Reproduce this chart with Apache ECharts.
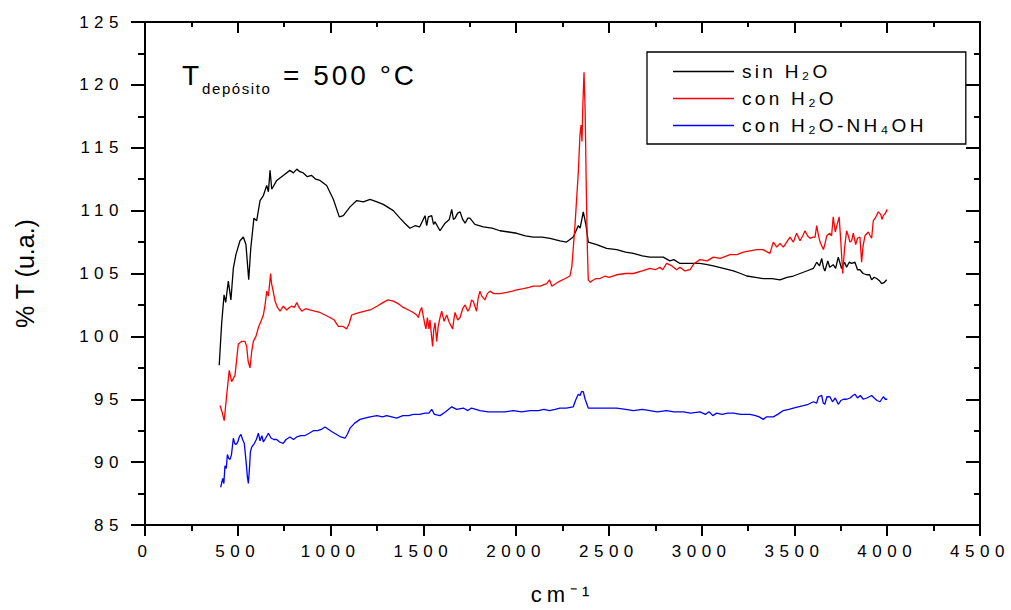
<!DOCTYPE html>
<html><head><meta charset="utf-8">
<script src="https://cdn.jsdelivr.net/npm/echarts@6/dist/echarts.min.js"></script>
<style>
html,body{margin:0;padding:0;background:#fff}
#chart{width:1011px;height:610px}
#chart text[style*="17px"]{letter-spacing:5.5px}
#chart text[style*="19px"]{letter-spacing:3.3px}
#chart text[style*="28px"]{letter-spacing:3px}
#chart text[style*="15px"]{letter-spacing:1.6px}
#chart text[style*="22px"]{letter-spacing:5px}
</style></head><body><div id="chart"></div>
<script>
// wavenumber (cm-1), %T values
const sinH2O = [[400,97.7],[413,101.0],[426,103.3],[435,102.7],[449,104.4],[463,102.9],[476,105.4],[490,106.5],[512,107.6],[530,107.9],[544,107.3],[559,104.5],[570,107.0],[587,109.4],[602,109.2],[620,110.8],[638,111.2],[656,112.0],[665,111.5],[674,113.2],[683,111.7],[710,112.4],[745,112.8],[781,113.2],[800,113.0],[818,113.3],[835,113.1],[853,113.0],[875,112.7],[898,112.8],[920,112.5],[943,112.4],[979,112.0],[1015,110.9],[1047,109.5],[1069,109.6],[1105,110.3],[1141,110.8],[1177,110.7],[1213,110.9],[1250,110.7],[1284,110.5],[1338,110.0],[1374,109.4],[1400,109.0],[1428,108.6],[1455,108.8],[1480,108.7],[1509,109.6],[1518,108.8],[1527,109.5],[1545,109.6],[1555,108.9],[1563,109.1],[1590,108.4],[1617,109.0],[1640,109.3],[1653,110.1],[1662,109.3],[1671,109.4],[1685,109.8],[1698,109.9],[1712,109.3],[1725,109.0],[1740,109.4],[1751,109.4],[1778,108.9],[1823,108.7],[1870,108.6],[1913,108.4],[1960,108.3],[2003,108.2],[2050,108.0],[2093,107.9],[2140,107.9],[2183,107.8],[2236,107.6],[2272,107.5],[2308,107.9],[2335,108.8],[2345,108.6],[2362,109.9],[2377,108.8],[2389,107.5],[2434,107.3],[2488,107.0],[2542,106.9],[2590,106.7],[2632,106.6],[2680,106.4],[2721,106.3],[2793,106.3],[2829,106.0],[2850,106.1],[2883,105.8],[2919,105.8],[2991,105.8],[3030,105.7],[3063,105.6],[3117,105.4],[3171,105.2],[3210,105.0],[3243,104.8],[3290,104.7],[3332,104.6],[3380,104.6],[3422,104.5],[3460,104.7],[3494,104.8],[3530,105.0],[3566,105.2],[3602,105.4],[3620,105.9],[3635,105.6],[3647,106.2],[3656,105.5],[3664,105.2],[3680,106.0],[3690,105.5],[3709,105.7],[3722,105.4],[3736,106.3],[3754,105.4],[3770,105.9],[3781,105.5],[3795,105.9],[3808,105.8],[3826,105.9],[3840,105.3],[3853,105.3],[3870,105.0],[3889,104.9],[3905,104.9],[3916,104.5],[3930,104.7],[3943,104.6],[3960,104.4],[3970,104.2],[3985,104.3],[3997,104.5]];

const conH2O = [[404,94.5],[415,94.0],[427,93.3],[440,95.3],[454,97.3],[467,96.4],[485,96.9],[503,99.4],[521,99.6],[539,99.6],[548,99.2],[556,98.0],[566,97.5],[575,98.8],[584,99.6],[598,100.0],[611,100.7],[625,101.2],[638,101.7],[647,102.5],[656,103.6],[665,103.2],[677,105.0],[682,104.2],[688,103.8],[701,102.8],[714,102.3],[728,102.0],[745,102.4],[764,102.1],[778,102.3],[790,102.4],[805,102.3],[818,102.7],[830,102.3],[845,102.0],[865,102.2],[889,102.1],[915,102.0],[943,101.9],[970,101.7],[997,101.5],[1020,101.3],[1042,100.8],[1065,100.8],[1087,100.6],[1100,101.0],[1114,101.7],[1135,101.8],[1159,101.9],[1185,102.0],[1213,102.1],[1250,102.4],[1284,102.7],[1310,102.9],[1338,102.8],[1365,102.6],[1392,102.3],[1420,102.1],[1446,101.9],[1464,101.7],[1473,101.5],[1482,102.0],[1491,102.3],[1500,101.6],[1509,100.9],[1514,100.6],[1522,101.5],[1530,100.6],[1536,101.3],[1543,100.2],[1550,99.2],[1556,100.5],[1563,101.1],[1572,99.6],[1580,100.8],[1590,101.5],[1599,102.0],[1612,101.2],[1626,101.7],[1640,101.1],[1658,100.6],[1665,101.4],[1671,101.9],[1685,101.3],[1698,101.5],[1712,102.2],[1725,102.5],[1740,102.0],[1751,102.3],[1760,102.9],[1769,102.8],[1778,102.4],[1787,102.0],[1795,103.0],[1805,103.6],[1815,103.2],[1832,102.9],[1845,103.4],[1859,103.6],[1880,103.4],[1913,103.4],[1950,103.5],[1980,103.6],[2003,103.7],[2040,103.8],[2070,103.9],[2093,104.0],[2130,104.0],[2165,104.2],[2180,104.5],[2192,104.0],[2215,104.2],[2236,104.4],[2265,104.6],[2290,104.8],[2300,105.5],[2308,107.0],[2318,109.0],[2326,110.9],[2335,113.0],[2344,116.0],[2350,116.8],[2355,115.5],[2360,118.5],[2366,121.0],[2372,118.0],[2378,112.0],[2384,107.0],[2389,104.5],[2400,104.3],[2407,104.4],[2430,104.6],[2452,104.6],[2480,104.8],[2500,104.7],[2542,104.9],[2590,105.0],[2632,105.0],[2680,105.2],[2721,105.4],[2750,105.3],[2775,105.5],[2790,105.3],[2811,105.8],[2840,105.6],[2865,105.3],[2883,105.5],[2910,105.2],[2937,105.3],[2960,105.8],[2991,106.1],[3030,106.0],[3063,106.3],[3100,106.2],[3153,106.5],[3190,106.5],[3225,106.7],[3260,106.8],[3297,106.9],[3330,106.9],[3368,106.6],[3386,107.5],[3405,107.1],[3422,107.4],[3440,107.1],[3458,107.5],[3476,107.9],[3494,107.5],[3512,108.2],[3530,107.6],[3545,108.0],[3557,108.4],[3570,108.0],[3584,107.8],[3600,107.9],[3611,107.9],[3620,108.8],[3630,108.0],[3638,107.5],[3656,106.9],[3665,107.4],[3674,108.0],[3690,108.2],[3700,108.0],[3709,109.5],[3720,108.3],[3730,108.9],[3741,109.5],[3750,107.5],[3760,105.0],[3770,107.0],[3781,108.4],[3790,108.0],[3799,107.5],[3808,107.6],[3817,108.2],[3830,107.3],[3840,107.8],[3853,107.9],[3862,105.9],[3870,107.2],[3880,108.0],[3898,108.3],[3908,108.0],[3916,107.8],[3925,109.2],[3935,109.4],[3952,109.9],[3965,109.7],[3972,109.3],[3979,109.6],[3990,109.8],[4000,110.1]];

const conH2ONH4OH = [[408,88.0],[414,88.4],[419,88.7],[425,88.3],[431,89.7],[438,89.5],[444,90.6],[451,90.3],[458,90.2],[466,90.6],[476,91.9],[483,91.5],[490,91.4],[500,91.6],[508,92.0],[517,92.2],[526,91.8],[535,91.5],[545,90.0],[552,88.8],[557,88.3],[563,89.5],[568,90.8],[575,91.2],[590,91.5],[600,91.8],[611,92.3],[620,91.7],[630,92.1],[638,91.6],[650,91.9],[665,92.3],[680,91.9],[695,91.8],[710,91.8],[725,91.6],[745,91.5],[760,91.8],[781,92.0],[800,91.8],[818,92.0],[840,92.1],[860,92.1],[885,92.3],[907,92.5],[930,92.5],[950,92.6],[970,92.8],[990,92.6],[1010,92.4],[1033,92.2],[1055,92.0],[1078,91.9],[1090,92.2],[1105,92.7],[1130,93.1],[1159,93.4],[1185,93.5],[1213,93.6],[1250,93.7],[1280,93.6],[1302,93.7],[1330,93.6],[1356,93.5],[1390,93.7],[1420,93.7],[1446,93.8],[1480,93.8],[1510,93.9],[1530,93.9],[1545,94.2],[1560,93.8],[1590,93.7],[1620,94.0],[1653,94.4],[1680,94.2],[1715,94.3],[1740,94.1],[1760,94.3],[1805,94.1],[1850,94.0],[1895,94.0],[1940,94.0],[1985,94.1],[2030,94.0],[2075,94.1],[2120,94.1],[2150,94.2],[2180,94.1],[2210,94.2],[2236,94.3],[2270,94.3],[2308,94.4],[2320,94.9],[2335,95.4],[2345,95.3],[2352,95.6],[2362,95.6],[2372,95.0],[2389,94.3],[2420,94.3],[2452,94.3],[2500,94.3],[2542,94.3],[2590,94.2],[2632,94.1],[2680,94.2],[2721,94.1],[2760,94.0],[2811,94.1],[2850,94.0],[2901,94.0],[2940,93.9],[2991,94.0],[3020,93.8],[3040,94.0],[3060,93.7],[3081,93.9],[3110,93.8],[3140,93.9],[3171,93.9],[3210,93.8],[3261,93.8],[3290,93.7],[3310,93.6],[3332,93.4],[3350,93.6],[3386,93.6],[3410,93.8],[3440,94.1],[3470,94.2],[3494,94.3],[3520,94.4],[3548,94.5],[3575,94.6],[3602,94.8],[3620,94.7],[3630,95.2],[3647,95.3],[3655,94.7],[3664,94.6],[3675,95.2],[3691,95.2],[3705,94.8],[3720,95.1],[3736,94.6],[3750,94.9],[3765,95.0],[3781,95.0],[3800,95.1],[3815,95.3],[3826,95.4],[3840,95.1],[3855,95.3],[3871,95.0],[3890,95.1],[3916,95.3],[3930,95.1],[3945,94.9],[3961,94.8],[3970,95.0],[3979,95.2],[3990,95.0],[4000,95.0]];

const seriesNames = ['sin H\u2082O', 'con H\u2082O', 'con H\u2082O-NH\u2084OH'];
const seriesColors = ['#000000', '#ff0000', '#0000ff'];
const seriesData = [sinH2O, conH2O, conH2ONH4OH];

const xRange = {min: 0, max: 4500, interval: 500};
const yRange = {min: 85, max: 125, interval: 5};
const xName = 'cm\u207B\u00B9';
const yName = '% T (u.a.)';
const titleMain = 'T';
const titleSub = 'depósito';
const titleRest = '= 500 °C';

const FONT = 'Liberation Sans, Arial, sans-serif';
const chart = echarts.init(document.getElementById('chart'), null, {renderer: 'svg'});

function axisBase(extra) {
  return Object.assign({
    type: 'value',
    splitLine: {show: false},
    axisLine: {show: true, onZero: false, lineStyle: {color: '#000', width: 2}},
  }, extra);
}
const plainNum = v => String(v);

chart.setOption({
  animation: false,
  backgroundColor: '#fff',
  grid: {left: 145, right: 31, top: 22, bottom: 81, containLabel: false},
  legend: {
    orient: 'vertical', left: 647, top: 52,
    padding: [10, 82, 9, 26], itemGap: 8,
    itemWidth: 61, itemHeight: 1.4, icon: 'rect',
    borderColor: '#000', borderWidth: 1.3, borderRadius: 0,
    textStyle: {fontFamily: FONT, fontSize: 19, color: '#000', padding: [0, 0, 0, 3], lineHeight: 19},
    data: seriesNames
  },
  xAxis: [
    axisBase(Object.assign({}, xRange, {
      position: 'bottom',
      name: xName, nameLocation: 'middle', nameGap: 58,
      nameTextStyle: {fontFamily: FONT, fontSize: 22, color: '#000', lineHeight: 22},
      axisTick: {show: true, inside: false, length: 11, lineStyle: {width: 2, color: '#000'}},
      minorTick: {show: true, splitNumber: 2, length: 6, lineStyle: {width: 2, color: '#000'}},
      axisLabel: {fontFamily: FONT, fontSize: 17, color: '#000', margin: 18, formatter: plainNum}
    })),
    axisBase(Object.assign({}, xRange, {
      position: 'top',
      axisTick: {show: true, inside: true, length: 11, lineStyle: {width: 2, color: '#000'}},
      minorTick: {show: true, splitNumber: 2, length: 5, lineStyle: {width: 2, color: '#000'}},
      axisLabel: {show: false}
    }))
  ],
  yAxis: [
    axisBase(Object.assign({}, yRange, {
      position: 'left',
      name: yName, nameLocation: 'middle', nameGap: 108,
      nameTextStyle: {fontFamily: FONT, fontSize: 25, color: '#000'},
      axisTick: {show: true, inside: false, length: 14, lineStyle: {width: 2, color: '#000'}},
      minorTick: {show: true, splitNumber: 2, length: 7, lineStyle: {width: 2, color: '#000'}},
      axisLabel: {fontFamily: FONT, fontSize: 17, color: '#000', margin: 21, formatter: plainNum}
    })),
    axisBase(Object.assign({}, yRange, {
      position: 'right',
      axisTick: {show: true, inside: true, length: 14, lineStyle: {width: 2, color: '#000'}},
      minorTick: {show: true, splitNumber: 2, length: 6, lineStyle: {width: 2, color: '#000'}},
      axisLabel: {show: false}
    }))
  ],
  graphic: [
    {type: 'text', left: 182, top: 61, style: {text: titleMain, font: '28px ' + FONT, fill: '#000'}},
    {type: 'text', left: 202, top: 81, style: {text: titleSub, font: '15px ' + FONT, fill: '#000'}},
    {type: 'text', left: 283, top: 61, style: {text: titleRest, font: '28px ' + FONT, fill: '#000'}}
  ],
  series: seriesNames.map((n, i) => ({
    name: n, type: 'line', xAxisIndex: 0, yAxisIndex: 0,
    data: seriesData[i], symbol: 'none', smooth: false,
    lineStyle: {color: seriesColors[i], width: 1.3},
    itemStyle: {color: seriesColors[i]},
    emphasis: {disabled: true}
  }))
});
</script>
</body></html>
